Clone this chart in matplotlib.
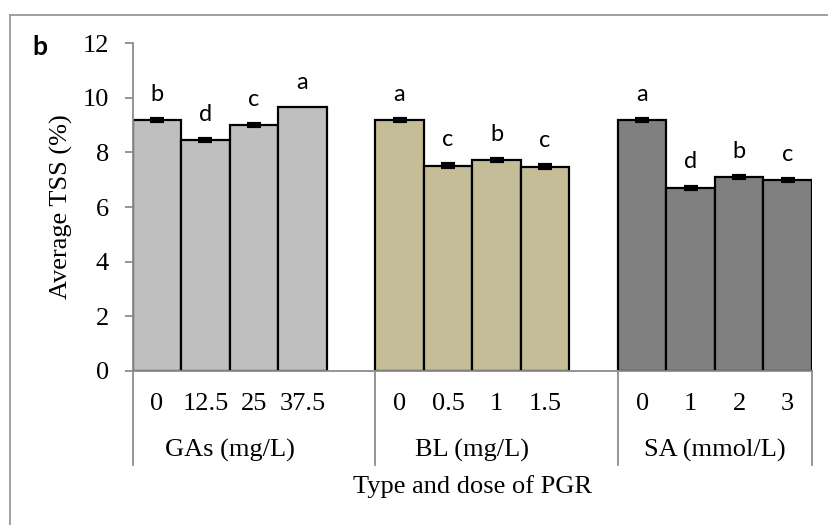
import matplotlib
matplotlib.use('Agg')
import matplotlib.pyplot as plt
from matplotlib.lines import Line2D
import numpy as np

# data
groups = ['GAs (mg/L)', 'BL (mg/L)', 'SA (mmol/L)']
doses = [['0', '12.5', '25', '37.5'],
         ['0', '0.5', '1', '1.5'],
         ['0', '1', '2', '3']]
tss = [[9.19, 8.45, 9.01, 9.68],
       [9.19, 7.52, 7.71, 7.48],
       [9.18, 6.71, 7.11, 6.98]]
err = [[0.03, 0.04, 0.04, 0.0],
       [0.03, 0.04, 0.04, 0.05],
       [0.03, 0.04, 0.04, 0.03]]
letters = [['b', 'd', 'c', 'a'],
           ['a', 'c', 'b', 'c'],
           ['a', 'd', 'b', 'c']]
colors = ['#BFBFBF', '#C4BD97', '#808080']

serif = 'Liberation Serif'
sans = 'Lato'
fs = 19
grid_c = '#8C8C8C'

fig = plt.figure(figsize=(8.29, 5.25), dpi=100)
ax = fig.add_axes([0.160, 0.2939, 0.8195, 0.6236])

# outer chart frame (cropped at right and bottom like the reference)
fig.add_artist(Line2D([10/829, 1.0], [1-15/525, 1-15/525], transform=fig.transFigure, color='#999999', lw=1.3))
fig.add_artist(Line2D([10/829, 10/829], [0.0, 1-15/525], transform=fig.transFigure, color='#999999', lw=1.3))

tr = ax.get_xaxis_transform()
for g in range(3):
    xs = np.arange(4) + g*5
    ax.bar(xs, tss[g], width=1.0, color=colors[g], edgecolor='black', linewidth=1.6, zorder=2)
    e = np.array(err[g])
    keep = e > 0
    ax.errorbar(xs[keep], np.array(tss[g])[keep], yerr=e[keep], fmt='none', ecolor='black',
                elinewidth=1.5, capsize=5, capthick=3, zorder=3)
    for x, v, ee, lab in zip(xs, tss[g], err[g], letters[g]):
        ax.annotate(lab, (x, v + ee), xytext=(0, 13), textcoords='offset points',
                    ha='center', va='baseline', fontsize=17, family=sans)
    for x, d in zip(xs, doses[g]):
        ax.text(x, -0.102, d, transform=tr, ha='center', va='center', fontsize=fs, family=serif)
    ax.text(xs.mean(), -0.245, groups[g], transform=tr, ha='center', va='center', fontsize=fs, family=serif)

# group separators under the axis
for xsep in [-0.5, 4.5, 9.5, 13.5]:
    ax.add_line(Line2D([xsep, xsep], [0, -0.288], transform=tr, color=grid_c, lw=1.3, clip_on=False))

ax.text(0.5, -0.355, 'Type and dose of PGR', transform=ax.transAxes, ha='center', va='center',
        fontsize=fs, family=serif)
ax.text(-0.1055, 0.5, 'Average TSS (%)', transform=ax.transAxes, rotation=90, ha='center', va='center',
        fontsize=fs, family=serif)
fig.text(32/829, 1-55/525, 'b', fontsize=19, fontweight='bold', family=sans, ha='left', va='baseline')

ax.set_xlim(-0.5, 13.5)
ax.set_ylim(0, 12)
ax.set_yticks(np.arange(0, 13, 2))
ax.set_xticks([])
ax.tick_params(axis='y', length=6, width=1.3, color=grid_c, pad=11, labelsize=fs)
for t in ax.get_yticklabels():
    t.set_family(serif)
for s in ['top', 'right']:
    ax.spines[s].set_visible(False)
for s in ['left', 'bottom']:
    ax.spines[s].set_color(grid_c)
    ax.spines[s].set_linewidth(1.3)

fig.savefig('out.png', dpi=100)
